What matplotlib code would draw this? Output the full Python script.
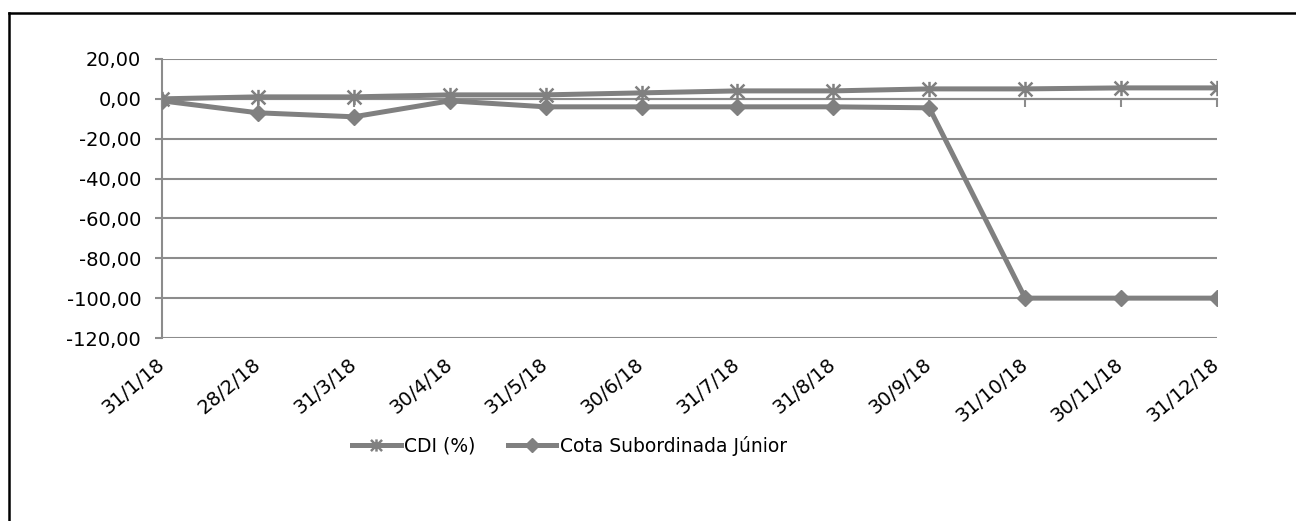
import matplotlib
matplotlib.use("Agg")
import matplotlib.pyplot as plt
from matplotlib.ticker import FuncFormatter
from matplotlib.lines import Line2D
from matplotlib.path import Path

datas = ['31/1/18', '28/2/18', '31/3/18', '30/4/18', '31/5/18', '30/6/18',
         '31/7/18', '31/8/18', '30/9/18', '31/10/18', '30/11/18', '31/12/18']
cdi = [0.0, 1.0, 1.0, 2.0, 2.0, 3.0, 4.0, 4.0, 5.0, 5.0, 5.5, 5.5]
cota_sub_jr = [-1.0, -7.0, -9.0, -1.0, -4.0, -4.0, -4.0, -4.0, -4.5, -100.0, -100.0, -100.0]
y_ticks = [20, 0, -20, -40, -60, -80, -100, -120]

plt.rcParams['font.family'] = ['DejaVu Sans']

cinza = '#808080'
grade = '#8c8c8c'

# marcador estrela do Excel: X + traço vertical
estrela = Path([(-1, -1), (1, 1), (-1, 1), (1, -1), (0, -1.1), (0, 1.1)],
               [Path.MOVETO, Path.LINETO, Path.MOVETO, Path.LINETO, Path.MOVETO, Path.LINETO])

fig = plt.figure(figsize=(12.96, 5.21), dpi=100)
ax = fig.add_axes([162 / 1296, 1 - 338 / 521, (1217 - 162) / 1296, (338 - 59) / 521])

x = list(range(len(datas)))
ax.plot(x, cdi, color=cinza, lw=3.6, marker=estrela, ms=11, mew=1.8,
        mec=cinza, label='CDI (%)', zorder=3)
ax.plot(x, cota_sub_jr, color=cinza, lw=3.6, marker='D', ms=8.5,
        mec=cinza, mfc=cinza, label='Cota Subordinada Júnior', zorder=3)

ax.set_xlim(0, len(datas) - 1)
ax.set_ylim(-120, 20)
ax.set_yticks(y_ticks)
ax.yaxis.set_major_formatter(FuncFormatter(lambda v, p: f'{v:.2f}'.replace('.', ',')))
ax.yaxis.grid(True, color=grade, lw=1.5)
ax.set_axisbelow(True)

for s in ['top', 'right']:
    ax.spines[s].set_visible(False)
ax.spines['left'].set_color(grade)
ax.spines['left'].set_linewidth(1.5)
ax.spines['bottom'].set_position(('data', 0))
ax.spines['bottom'].set_color(grade)
ax.spines['bottom'].set_linewidth(1.5)
ax.tick_params(axis='y', direction='out', length=5, width=1.5, color=grade,
               labelsize=14, pad=10)
ax.set_xticks(x)
ax.tick_params(axis='x', direction='out', length=6, width=1.5, color=grade,
               labelbottom=False)

sec = ax.secondary_xaxis('bottom')
sec.set_xticks(x)
sec.set_xticklabels(datas, rotation=40, ha='right', va='center',
                    rotation_mode='anchor')
sec.tick_params(length=0, labelsize=14, pad=17)
sec.spines['bottom'].set_visible(False)

h, l = ax.get_legend_handles_labels()
fig.legend(h, l, loc='center', bbox_to_anchor=(0.4394, 0.144), ncol=2, frameon=False,
           fontsize=13.5, handlelength=2.6, handletextpad=0.2, columnspacing=1.7,
           markerscale=0.8)

# moldura
fig.add_artist(Line2D([9 / 1296, 9 / 1296], [1 - 13 / 521, -0.1], color='black', lw=1.8,
                      transform=fig.transFigure))
fig.add_artist(Line2D([9 / 1296, 1.1], [1 - 13 / 521, 1 - 13 / 521], color='black', lw=1.8,
                      transform=fig.transFigure))

fig.savefig('out.png', dpi=100)
